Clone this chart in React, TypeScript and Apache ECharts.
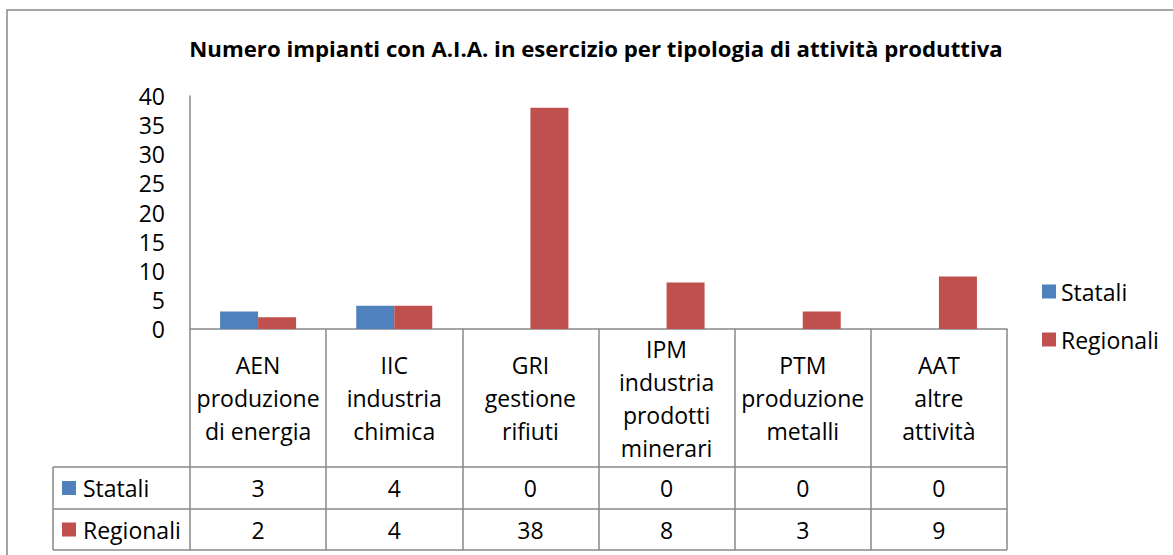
import React, { useEffect, useRef } from "react";
import * as echarts from "echarts";

const titleText = "Numero impianti con A.I.A. in esercizio per tipologia di attività produttiva";
const categories = [
  "AEN\nproduzione\ndi energia",
  "IIC\nindustria\nchimica",
  "GRI\ngestione\nrifiuti",
  "IPM\nindustria\nprodotti\nminerari",
  "PTM\nproduzione\nmetalli",
  "AAT\naltre\nattività",
];
const seriesNames = ["Statali", "Regionali"];
const statali = [3, 4, 0, 0, 0, 0];
const regionali = [2, 4, 38, 8, 3, 9];
const colors = ["#4F81BD", "#C0504D"];

const FONT = "'Open Sans'";
const FS = 23;
const GRID_LEFT = 190;
const GRID_RIGHT_X = 1007;
const GRID_TOP = 96;
const AXIS_Y = 329;
const ROW1_Y = 467;
const ROW2_Y = 509;
const ROW3_Y = 550;
const TABLE_LEFT = 53;
const LINE = "#888888";

export default function App() {
  const ref = useRef<HTMLDivElement>(null);
  useEffect(() => {
    const chart = echarts.init(ref.current!, null, { renderer: "svg" });
    const valueAxisBase = {
      type: "category" as const,
      gridIndex: 0,
      position: "bottom" as const,
      axisLine: { show: false },
      axisTick: { show: false },
      splitLine: { show: false },
    };
    const rowLabel = (name: string, color: string, y: number) => [
      {
        type: "rect",
        shape: { x: 62, y: y - 7, width: 14, height: 14 },
        style: { fill: color },
      },
      {
        type: "text",
        x: 83,
        y: y,
        style: {
          text: name,
          font: `${FS}px ${FONT}`,
          fill: "#000",
          textVerticalAlign: "middle",
          verticalAlign: "middle",
        },
      },
    ];
    const labelStyle = {
      fontFamily: FONT,
      fontSize: FS,
      color: "#000",
    };
    chart.setOption({
      animation: false,
      backgroundColor: "#fff",
      title: {
        text: titleText,
        left: 591,
        textAlign: "center",
        top: 32,
        textStyle: { fontFamily: FONT, fontWeight: "bold", fontSize: 22.2, color: "#000" },
      },
      legend: {
        orient: "vertical",
        left: 1037,
        top: 275,
        itemWidth: 14,
        itemHeight: 14,
        itemGap: 25,
        icon: "rect",
        data: seriesNames,
        textStyle: { ...labelStyle },
      },
      grid: {
        left: GRID_LEFT,
        top: GRID_TOP,
        width: GRID_RIGHT_X - GRID_LEFT,
        height: AXIS_Y - GRID_TOP,
        containLabel: false,
      },
      yAxis: {
        type: "value",
        min: 0,
        max: 40,
        interval: 5,
        axisLine: { show: true, lineStyle: { color: LINE, width: 1.5 } },
        axisTick: { show: false },
        splitLine: { show: false },
        axisLabel: { ...labelStyle, margin: 25 },
      },
      xAxis: [
        {
          type: "category",
          data: categories,
          gridIndex: 0,
          position: "bottom",
          axisLine: { show: true, lineStyle: { color: LINE, width: 1.5 } },
          axisTick: {
            show: true,
            length: ROW3_Y - AXIS_Y,
            lineStyle: { color: LINE, width: 1.5 },
          },
          axisLabel: {
            ...labelStyle,
            interval: 0,
            lineHeight: 33,
            verticalAlign: "middle",
            margin: (ROW1_Y - AXIS_Y) / 2,
          },
        },
        {
          ...valueAxisBase,
          data: statali.map(String),
          offset: (ROW1_Y + ROW2_Y) / 2 - AXIS_Y,
          axisLabel: { ...labelStyle, interval: 0, verticalAlign: "middle", margin: 0 },
        },
        {
          ...valueAxisBase,
          data: regionali.map(String),
          offset: (ROW2_Y + ROW3_Y) / 2 - AXIS_Y,
          axisLabel: { ...labelStyle, interval: 0, verticalAlign: "middle", margin: 0 },
        },
      ],
      series: [
        {
          name: seriesNames[0],
          type: "bar",
          xAxisIndex: 0,
          data: statali,
          barWidth: 38,
          barGap: "0%",
          itemStyle: { color: colors[0] },
        },
        {
          name: seriesNames[1],
          type: "bar",
          xAxisIndex: 0,
          data: regionali,
          barWidth: 38,
          barGap: "0%",
          itemStyle: { color: colors[1] },
        },
      ],
      graphic: [
        {
          type: "rect",
          shape: { x: 7, y: 10, width: 1200, height: 600 },
          style: { fill: "none", stroke: LINE, lineWidth: 1.5 },
          silent: true,
        },
        ...[ROW1_Y, ROW2_Y, ROW3_Y].map((y) => ({
          type: "line",
          shape: { x1: TABLE_LEFT, y1: y, x2: GRID_RIGHT_X, y2: y },
          style: { stroke: LINE, lineWidth: 1.5 },
        })),
        {
          type: "line",
          shape: { x1: TABLE_LEFT, y1: ROW1_Y, x2: TABLE_LEFT, y2: ROW3_Y },
          style: { stroke: LINE, lineWidth: 1.5 },
        },
        ...rowLabel(seriesNames[0], colors[0], (ROW1_Y + ROW2_Y) / 2),
        ...rowLabel(seriesNames[1], colors[1], (ROW2_Y + ROW3_Y) / 2),
      ],
    });
    return () => chart.dispose();
  }, []);
  return (
    <div
      ref={ref}
      style={{ position: "fixed", left: 0, top: 0, width: 1173, height: 555 }}
    />
  );
}
